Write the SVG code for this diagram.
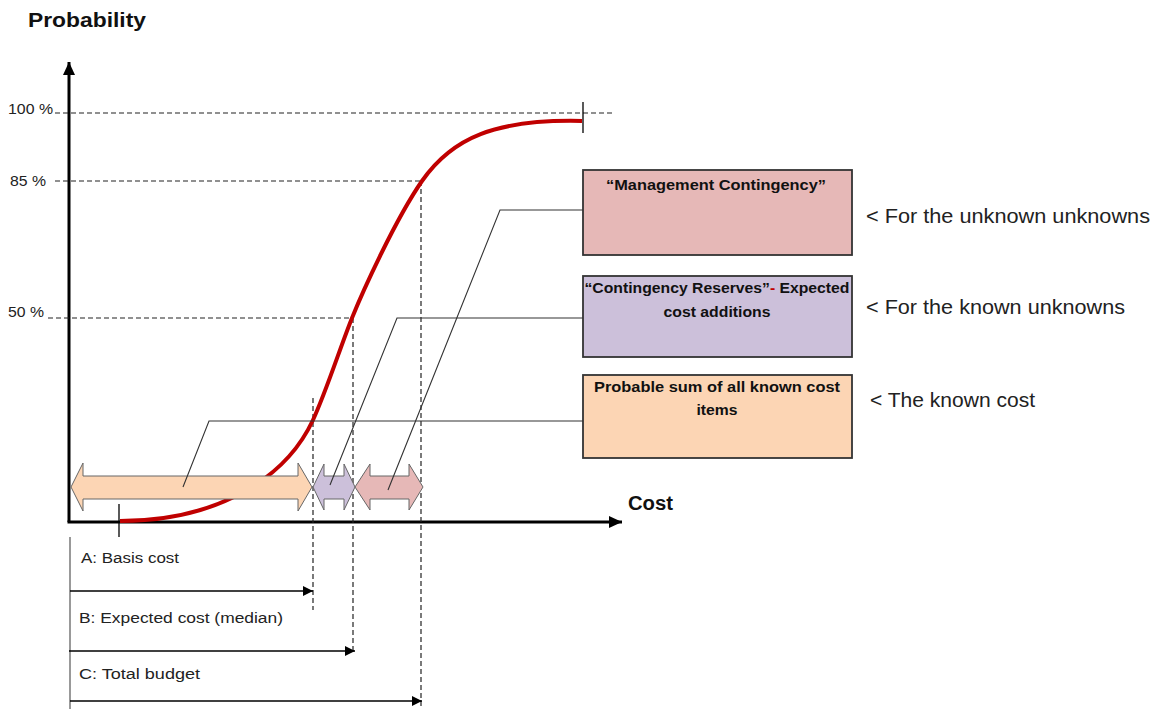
<svg xmlns="http://www.w3.org/2000/svg" width="1155" height="709" viewBox="0 0 1155 709">
<defs>
<style>
.lbl{font-family:"Liberation Sans",Arial,sans-serif;fill:#222}
.bold{font-family:"Liberation Sans",Arial,sans-serif;font-weight:bold;fill:#111}
.dash{stroke:#222;stroke-width:1.2;stroke-dasharray:5,3;fill:none}
.lead{stroke:#333;stroke-width:1.1;fill:none}
.box{stroke:#333;stroke-width:1.8}
.dbl{stroke:#666;stroke-width:1}
</style>
<marker id="ah" markerWidth="10" markerHeight="10" refX="10" refY="5" orient="auto" markerUnits="userSpaceOnUse">
<path d="M0,0 L10,5 L0,10 Z" fill="#000"/>
</marker>
<marker id="axh" markerWidth="14" markerHeight="14" refX="13" refY="7" orient="auto" markerUnits="userSpaceOnUse">
<path d="M0,1 L13,7 L0,13 Z" fill="#000"/>
</marker>
</defs>
<rect width="1155" height="709" fill="#fff"/>

<g id="axes">
<line x1="69" y1="522" x2="69" y2="62" stroke="#000" stroke-width="3" marker-end="url(#axh)"/>
<line x1="67.5" y1="522" x2="622" y2="522" stroke="#000" stroke-width="3" marker-end="url(#axh)"/>
<text class="bold" x="28" y="27" font-size="21" textLength="118" lengthAdjust="spacingAndGlyphs">Probability</text>
<text class="bold" x="628" y="510" font-size="20" textLength="45" lengthAdjust="spacingAndGlyphs">Cost</text>
<text class="lbl" x="8" y="114" font-size="15" textLength="45" lengthAdjust="spacingAndGlyphs">100 %</text>
<text class="lbl" x="10" y="186" font-size="15" textLength="36" lengthAdjust="spacingAndGlyphs">85 %</text>
<text class="lbl" x="8" y="317" font-size="15" textLength="36" lengthAdjust="spacingAndGlyphs">50 %</text>
</g>

<g id="guides">
<line class="dash" x1="55" y1="113" x2="612" y2="113"/>
<line class="dash" x1="55" y1="181" x2="422" y2="181"/>
<line class="dash" x1="48" y1="318" x2="353" y2="318"/>
<line class="dash" x1="313" y1="398" x2="313" y2="610"/>
<line class="dash" x1="353" y1="318" x2="353" y2="652"/>
<line class="dash" x1="421" y1="181" x2="421" y2="709"/>
<line x1="583" y1="102" x2="583" y2="133" stroke="#000" stroke-width="1.3"/>
<line x1="119" y1="504" x2="119" y2="537" stroke="#000" stroke-width="1.3"/>
</g>

<g id="curve">
<path d="M120,521 C215,521 285,480 313,420 C326,392 340,348 352,318 C362,293 395,220 422,181 C452,138 495,119 582,121" fill="none" stroke="#C00000" stroke-width="4"/>
</g>

<g id="bars">
<polygon class="dbl" fill="#FCD5B4" points="71,487 83,463 83,476 298,476 298,463 312,487 298,511 298,499 83,499 83,511"/>
<polygon class="dbl" fill="#CCC0DA" points="313,487 324,464 324,476 344,476 344,464 355,487 344,510 344,499 324,499 324,510"/>
<polygon class="dbl" fill="#E6B8B7" points="355,487 370,464 370,476 409,476 409,464 423,487 409,510 409,499 370,499 370,510"/>
</g>

<g id="connectors">
<polyline class="lead" points="583,210 500,210 388,490"/>
<polyline class="lead" points="583,318 397,318 330,485"/>
<polyline class="lead" points="583,421 209,421 183,487"/>
</g>

<g id="box-management">
<rect class="box" x="583" y="170" width="269" height="85" fill="#E6B8B7"/>
<text class="bold" x="716" y="190" font-size="15.5" text-anchor="middle" textLength="220" lengthAdjust="spacingAndGlyphs">“Management Contingency”</text>
</g>
<g id="box-reserves">
<rect class="box" x="583" y="276" width="269" height="81" fill="#CCC0DA"/>
<text class="bold" x="717" y="293" font-size="15.5" text-anchor="middle" textLength="265" lengthAdjust="spacingAndGlyphs">“Contingency  Reserves”<tspan fill="#C00000">-</tspan> Expected</text>
<text class="bold" x="717" y="317" font-size="15.5" text-anchor="middle" textLength="107" lengthAdjust="spacingAndGlyphs">cost additions</text>
</g>
<g id="box-known">
<rect class="box" x="583" y="375" width="269" height="83" fill="#FCD5B4"/>
<text class="bold" x="717" y="392" font-size="15.5" text-anchor="middle" textLength="246" lengthAdjust="spacingAndGlyphs">Probable  sum of all known  cost</text>
<text class="bold" x="717" y="415" font-size="15.5" text-anchor="middle" textLength="41" lengthAdjust="spacingAndGlyphs">items</text>
</g>

<g id="side-labels">
<text class="lbl" x="866" y="223" font-size="20" textLength="284" lengthAdjust="spacingAndGlyphs">&lt; For the unknown unknowns</text>
<text class="lbl" x="866" y="314" font-size="20" textLength="259" lengthAdjust="spacingAndGlyphs">&lt; For the known unknowns</text>
<text class="lbl" x="870" y="407" font-size="20" textLength="165" lengthAdjust="spacingAndGlyphs">&lt; The known cost</text>
</g>

<g id="cost-arrows">
<line x1="70" y1="537" x2="70" y2="709" stroke="#555" stroke-width="1.2"/>
<line x1="70" y1="591" x2="313" y2="591" stroke="#000" stroke-width="1.3" marker-end="url(#ah)"/>
<line x1="69" y1="651" x2="355" y2="651" stroke="#000" stroke-width="1.3" marker-end="url(#ah)"/>
<line x1="70" y1="701" x2="422" y2="701" stroke="#000" stroke-width="1.3" marker-end="url(#ah)"/>
<text class="lbl" x="81" y="563" font-size="15.5" textLength="98" lengthAdjust="spacingAndGlyphs">A: Basis cost</text>
<text class="lbl" x="79" y="623" font-size="15.5" textLength="204" lengthAdjust="spacingAndGlyphs">B: Expected cost (median)</text>
<text class="lbl" x="79" y="679" font-size="15.5" textLength="121" lengthAdjust="spacingAndGlyphs">C: Total budget</text>
</g>
</svg>
